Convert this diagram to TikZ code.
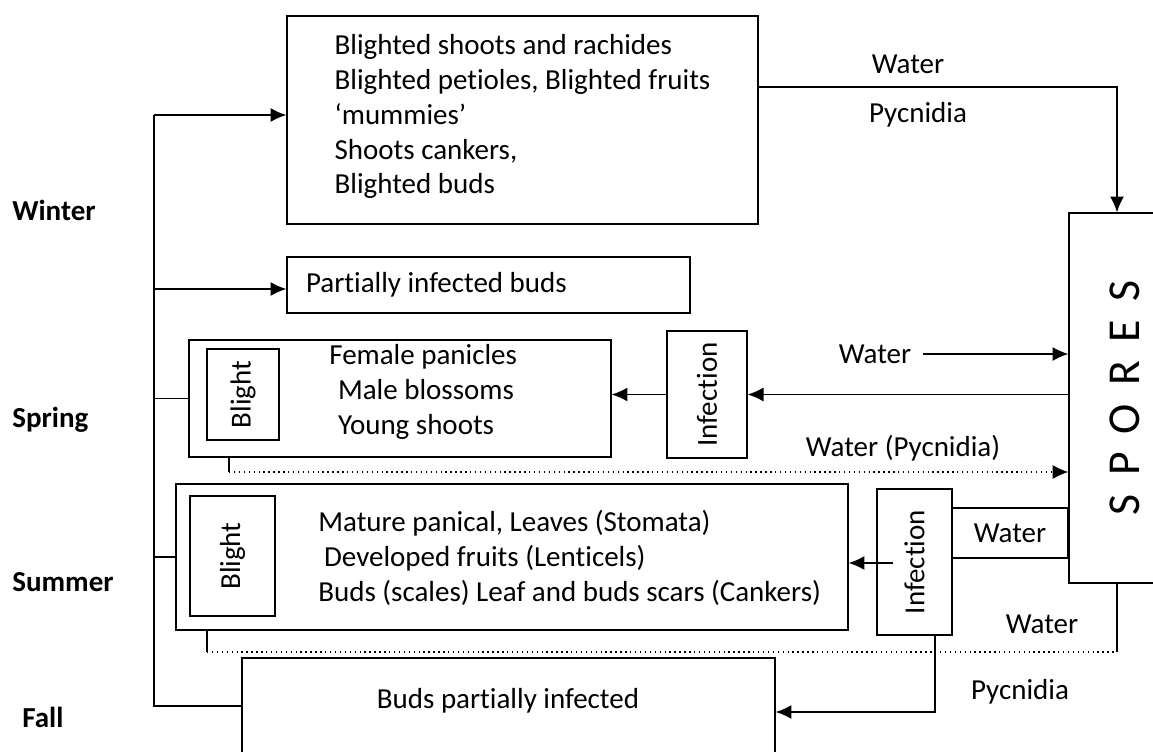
\documentclass[tikz,border=0pt]{standalone}
\usepackage{fontspec}
\usepackage{graphicx}
\usetikzlibrary{arrows.meta}
\setmainfont{Carlito}[Ligatures=NoCommon]
\begin{document}
\begin{tikzpicture}[x=0.02cm,y=-0.02cm]
		\tikzset{box/.style = {draw, line width=0.8pt, inner sep=0pt, font=\fontsize{16.5}{19.9}\selectfont}}
		\tikzset{txt/.style = {inner sep=0pt, font=\fontsize{16.5}{19.9}\selectfont}}
		\tikzset{season/.style = {inner sep=0pt, anchor=west, font=\fontsize{16.5}{19.9}\selectfont\bfseries}}
		\tikzset{link/.style = {line width=0.8pt}}
		\tikzset{edge/.style = {-{Latex[length=9pt,width=8pt]}, line width=0.8pt}}
		
		\useasboundingbox (0,0) rectangle (1153,751);
		
		\node[box, align=flush left, minimum width=9.42cm, minimum height=4.16cm] (1) at ( 522.5,  120) {Blighted shoots and rachides\\Blighted petioles, Blighted fruits\\‘mummies’\\Shoots cankers,\\Blighted buds\vspace{4pt}};
		\node[box, align=flush left, text width=7.3cm, inner xsep=0.38cm, minimum height=1.12cm] (2) at ( 488.5,  285) {Partially infected buds};
		\node[box, minimum width=8.44cm, minimum height=2.34cm] (3) at (   400,398.5) {};
		\node[box, minimum width=1.44cm, minimum height=1.82cm] (4) at (   243,394.5) {\rotatebox{90}{Blight}};
		\node[box, minimum width=1.6cm,  minimum height=2.54cm] (5) at (   707,394.5) {\rotatebox{90}{Infection}};
		\node[box, minimum width=2.24cm, minimum height=7.4cm, font=\fontsize{26}{30}\selectfont] (6) at (  1125,  398) {\rotatebox{90}{S\hspace{0.4em}P\hspace{0.4em}O\hspace{0.4em}R\hspace{0.4em}E\hspace{0.4em}S}};
		\node[box, minimum width=13.44cm,minimum height=2.92cm] (7) at (   512,  557) {};
		\node[box, minimum width=1.7cm,  minimum height=2.4cm]  (8) at ( 232.5,  556) {\rotatebox{90}{Blight}};
		\node[box, minimum width=1.5cm,  minimum height=2.92cm] (9) at ( 914.5,  562) {\rotatebox{90}{Infection}};
		\node[box, minimum width=2.32cm, minimum height=1cm]   (10) at (  1010,  533) {Water};
		\node[box, minimum width=10.66cm,minimum height=2.24cm](11) at ( 508.5,  714) {};
		
		\node[txt, anchor=west, align=flush left] (12) at (   329,  392) {Female panicles\\\hspace{0.3em}Male blossoms\\\hspace{0.3em}Young shoots};
		\node[txt, anchor=west, align=flush left] (13) at (   318,  558) {Mature panical, Leaves (Stomata)\\\hspace{0.2em}Developed fruits (Lenticels)\\Buds (scales) Leaf and buds scars (Cankers)};
		\node[txt] (14) at (   508,  701) {Buds partially infected};
		
		\node[season] (15) at (    12,  210) {Winter};
		\node[season] (16) at (    12,  420) {Spring};
		\node[season] (17) at (    12,  582) {Summer};
		\node[season] (18) at (    22,  717) {Fall};
		
		\node[txt] (40) at (   908,   64) {Water};
		\node[txt] (41) at (   918,  115) {Pycnidia};
		\node[txt] (42) at (   875,  354) {Water};
		\node[txt] (43) at (   903,  448) {Water (Pycnidia)};
		\node[txt] (44) at (  1042,  624) {Water};
		\node[txt] (45) at (  1020,  692) {Pycnidia};
		
		\coordinate (20) at (   154,  115);
		\coordinate (21) at (   154,  706);
		\coordinate (22) at (   154,  289);
		\coordinate (23) at (  1117,   87);
		\coordinate (24) at (   923,  354);
		\coordinate (26) at (   229,  472);
		\coordinate (27) at (   893,  563);
		\coordinate (28) at (   207,  652);
		\coordinate (29) at (  1117,  652);
		\coordinate (30) at (   935,  712);
		
		\draw[link] (20) -- (21) -- (21 -| 11.west);
		\draw[edge] (20) to (20 -| 1.west);
		\draw[edge] (22) to (22 -| 2.west);
		\draw[link] (3.west -| 20) to (3.west);
		\draw[link] (7.west -| 20) to (7.west);
		\draw[edge] (1.east |- 23) -- (23) -- (23 |- 6.north);
		\draw[edge] (24) to (24 -| 6.west);
		\draw[edge] (6.west |- 5.east) to (5.east);
		\draw[edge] (5.west) to (5.west -| 3.east);
		\draw[link] (3.south -| 26) to (26);
		\draw[edge, dotted, line width=0.6pt] (26) to (26 -| 6.west);
		\draw[edge] (27) to (27 -| 7.east);
		\draw[link] (7.south -| 28) to (28);
		\draw[link, dotted, line width=0.6pt] (28) to (29);
		\draw[link, line width=0.6pt] (29) to (29 |- 6.south);
		\draw[edge] (9.south -| 30) -- (30) -- (30 -| 11.east);
\end{tikzpicture}
\end{document}
